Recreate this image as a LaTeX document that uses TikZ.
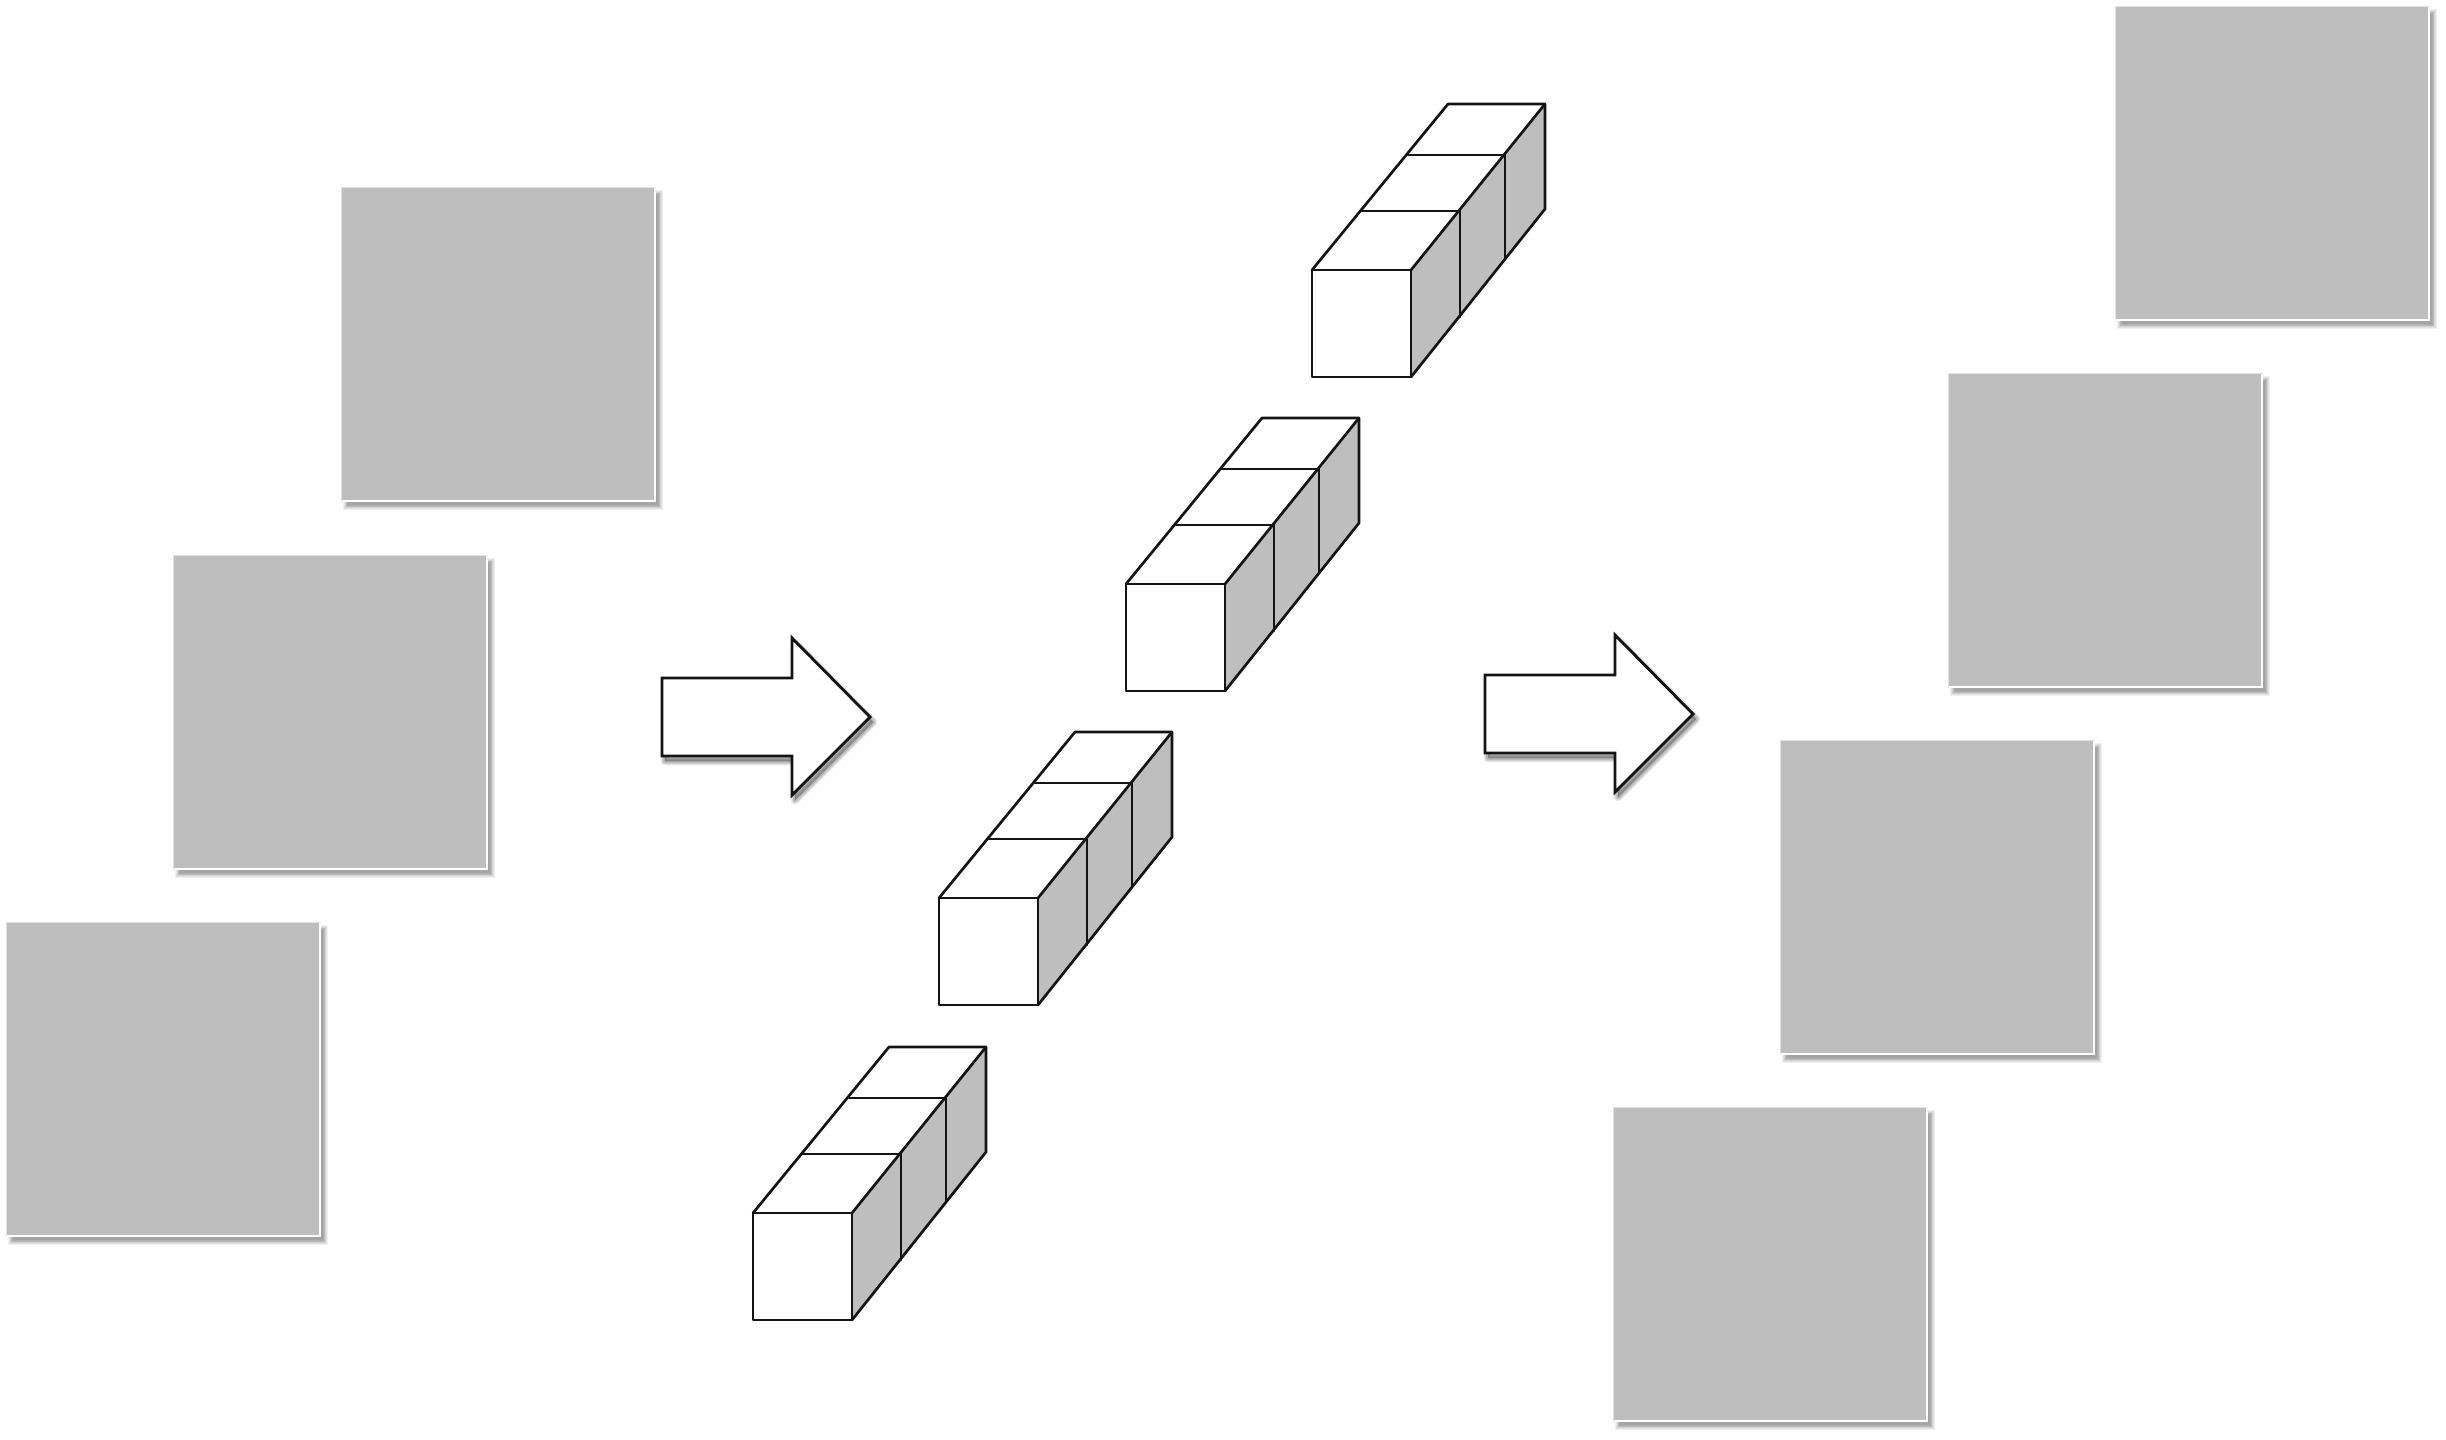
\documentclass[tikz,border=0pt]{standalone}
\definecolor{panelgray}{HTML}{BEBEBE}
\definecolor{edgelight}{HTML}{E2E2E2}
\definecolor{inkline}{HTML}{141414}
\newcommand{\squarepanel}[3]{% name, left, top (reference pixels)
  \foreach \r in {-2,-1.2,-0.4,0.4,1.2,2,2.8}{
    \fill[black,opacity=0.06] (#2+4-\r,#3+5-\r) rectangle (#2+312+6+\r,#3+312+7+\r);
  }
  \fill[white] (#2-1,#3-1) rectangle (#2+314,#3+314);
  \draw[edgelight,line width=0.036cm] (#2-0.6,#3+313.5) -- (#2-0.6,#3-0.6) -- (#2+313.5,#3-0.6);
  \node[panel] (#1) at (#2+156,#3+156) {};
}
\newcommand{\cubestrip}[3]{% name, front-left, front-top
  \begin{scope}[shift={(#2,#3)}]
    \coordinate (#1fa) at (0,0);    \coordinate (#1fb) at (99,0);
    \coordinate (#1fc) at (99,107);\coordinate (#1fd) at (0,107);
    \coordinate (#1ta) at (148,-59);\coordinate (#1tb) at (193,-115);\coordinate (#1tc) at (233,-166);
    \coordinate (#1la) at (50,-59); \coordinate (#1lb) at (96,-115); \coordinate (#1lc) at (136,-166);
    \coordinate (#1ba) at (148,47); \coordinate (#1bb) at (193,-11); \coordinate (#1bc) at (233,-61);
  \end{scope}
  \fill[panelgray] (#1fb) -- (#1tc) -- (#1bc) -- (#1fc) -- cycle;
  \fill[white] (#1fa) rectangle (#1fc);
  \fill[white] (#1fa) -- (#1lc) -- (#1tc) -- (#1fb) -- cycle;
  \draw[cubeline] (#1fa) rectangle (#1fc);
  \draw[cubeline] (#1fa) -- (#1lc) -- (#1tc) -- (#1bc) -- (#1fc);
  \draw[cubeline] (#1fb) -- (#1tc);
  \draw[cubeline] (#1la) -- (#1ta) -- (#1ba);
  \draw[cubeline] (#1lb) -- (#1tb) -- (#1bb);
}
\newcommand{\blockarrow}[2]{% left, body top
  \foreach \w in {0.26,0.21,0.16,0.11,0.06}{
    \draw[black,opacity=0.07,line width=\w cm,line join=round,fill=black,fill opacity=0.05]
      (#1+3,#2+5) -- (#1+133,#2+5) -- (#1+133,#2-35) -- (#1+211,#2+44) -- (#1+133,#2+122) -- (#1+133,#2+83) -- (#1+3,#2+83) -- cycle;
  }
  \draw[inkline,fill=white,line width=0.085cm,line join=miter]
    (#1,#2) -- (#1+130,#2) -- (#1+130,#2-40) -- (#1+208,#2+39) -- (#1+130,#2+117) -- (#1+130,#2+78) -- (#1,#2+78) -- cycle;
}
\tikzset{
  panel/.style={fill=panelgray,draw=none,inner sep=0pt,minimum width=0.03cm*312,minimum height=0.03cm*312,rectangle},
  cubeline/.style={draw=inkline,line width=0.08cm,line join=round,line cap=round}
}
\begin{document}
\begin{tikzpicture}[x=0.03cm,y=-0.03cm]
  \useasboundingbox[fill=white] (0,0) rectangle (2446,1440);
  \squarepanel{sqa}{342}{188}
  \squarepanel{sqb}{174}{556}
  \squarepanel{sqc}{7}{923}
  \squarepanel{sqd}{2116}{7}
  \squarepanel{sqe}{1949}{374}
  \squarepanel{sqf}{1781}{741}
  \squarepanel{sqg}{1614}{1108}
  \cubestrip{sa}{753}{1213}
  \cubestrip{sb}{939}{898}
  \cubestrip{sc}{1126}{584}
  \cubestrip{sd}{1312}{270}
  \blockarrow{662}{678}
  \blockarrow{1485}{675}
\end{tikzpicture}
\end{document}
